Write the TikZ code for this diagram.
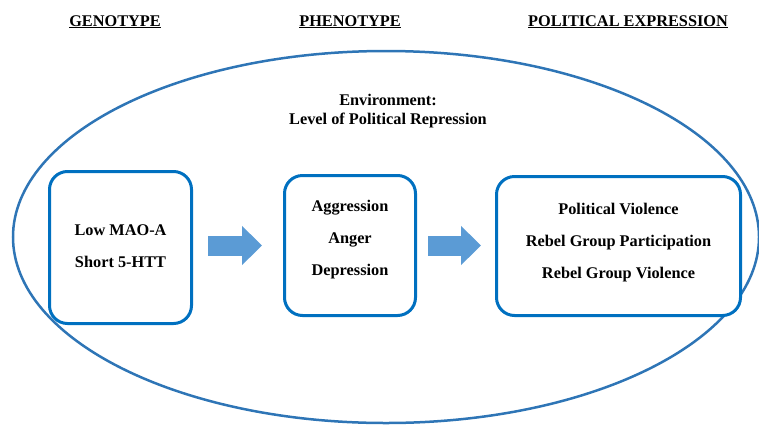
\documentclass[tikz,border=0pt]{standalone}
\usepackage{fontspec}
\setmainfont{Liberation Serif}
\usetikzlibrary{positioning,arrows.meta}

\definecolor{envblue}{RGB}{46,117,182}
\definecolor{boxblue}{RGB}{0,112,192}
\definecolor{arrblue}{RGB}{91,155,213}

\tikzset{
  heading/.style={font=\fontsize{16.3}{19}\selectfont\bfseries, anchor=base},
  stagebox/.style={draw=boxblue, line width=3pt, rounded corners=18pt, fill=white},
  stagetext/.style={align=center, font=\fontsize{16.3}{32}\selectfont\bfseries},
  blockarr/.style={draw=arrblue, line width=20pt, -{Triangle[width=38pt,length=20pt]},
    shorten <=15pt, shorten >=21pt}
}

\begin{document}
\begin{tikzpicture}[x=1pt,y=-1pt]
  \useasboundingbox (0,0) rectangle (759,426);
  % column headings
  \node[heading] (genohead) at (115,26) {\underline{GENOTYPE}};
  \node[heading] (phenohead) at (350,26) {\underline{PHENOTYPE}};
  \node[heading] (polhead) at (628,26) {\underline{POLITICAL EXPRESSION}};
  % environment
  \draw[envblue, line width=2.5pt] (386,237) ellipse [x radius=373, y radius=186];
  \node[font=\fontsize{16.3}{19}\selectfont\bfseries, align=center] (envtext) at (388,111)
    {Environment:\\Level of Political Repression};
  % stages
  \node[stagebox, minimum width=142pt, minimum height=152pt] (geno) at (120.5,247.5) {};
  \node[stagebox, minimum width=131pt, minimum height=140pt] (pheno) at (350,245.5) {};
  \node[stagebox, minimum width=244pt, minimum height=139pt] (polexp) at (618.5,246) {};
  \node[stagetext] (genotext) at ([yshift=1pt]geno.center) {Low MAO-A\\Short 5-HTT};
  \node[stagetext] (phenotext) at ([yshift=5.5pt]pheno.center) {Aggression\\Anger\\Depression};
  \node[stagetext] (polexptext) at ([yshift=3pt]polexp.center)
    {Political Violence\\Rebel Group Participation\\Rebel Group Violence};
  \draw[blockarr] (geno.east |- pheno.west) -- (pheno.west);
  \draw[blockarr, shorten <=11pt, shorten >=14pt] (pheno.east) -- (polexp.west |- pheno.east);
\end{tikzpicture}
\end{document}
